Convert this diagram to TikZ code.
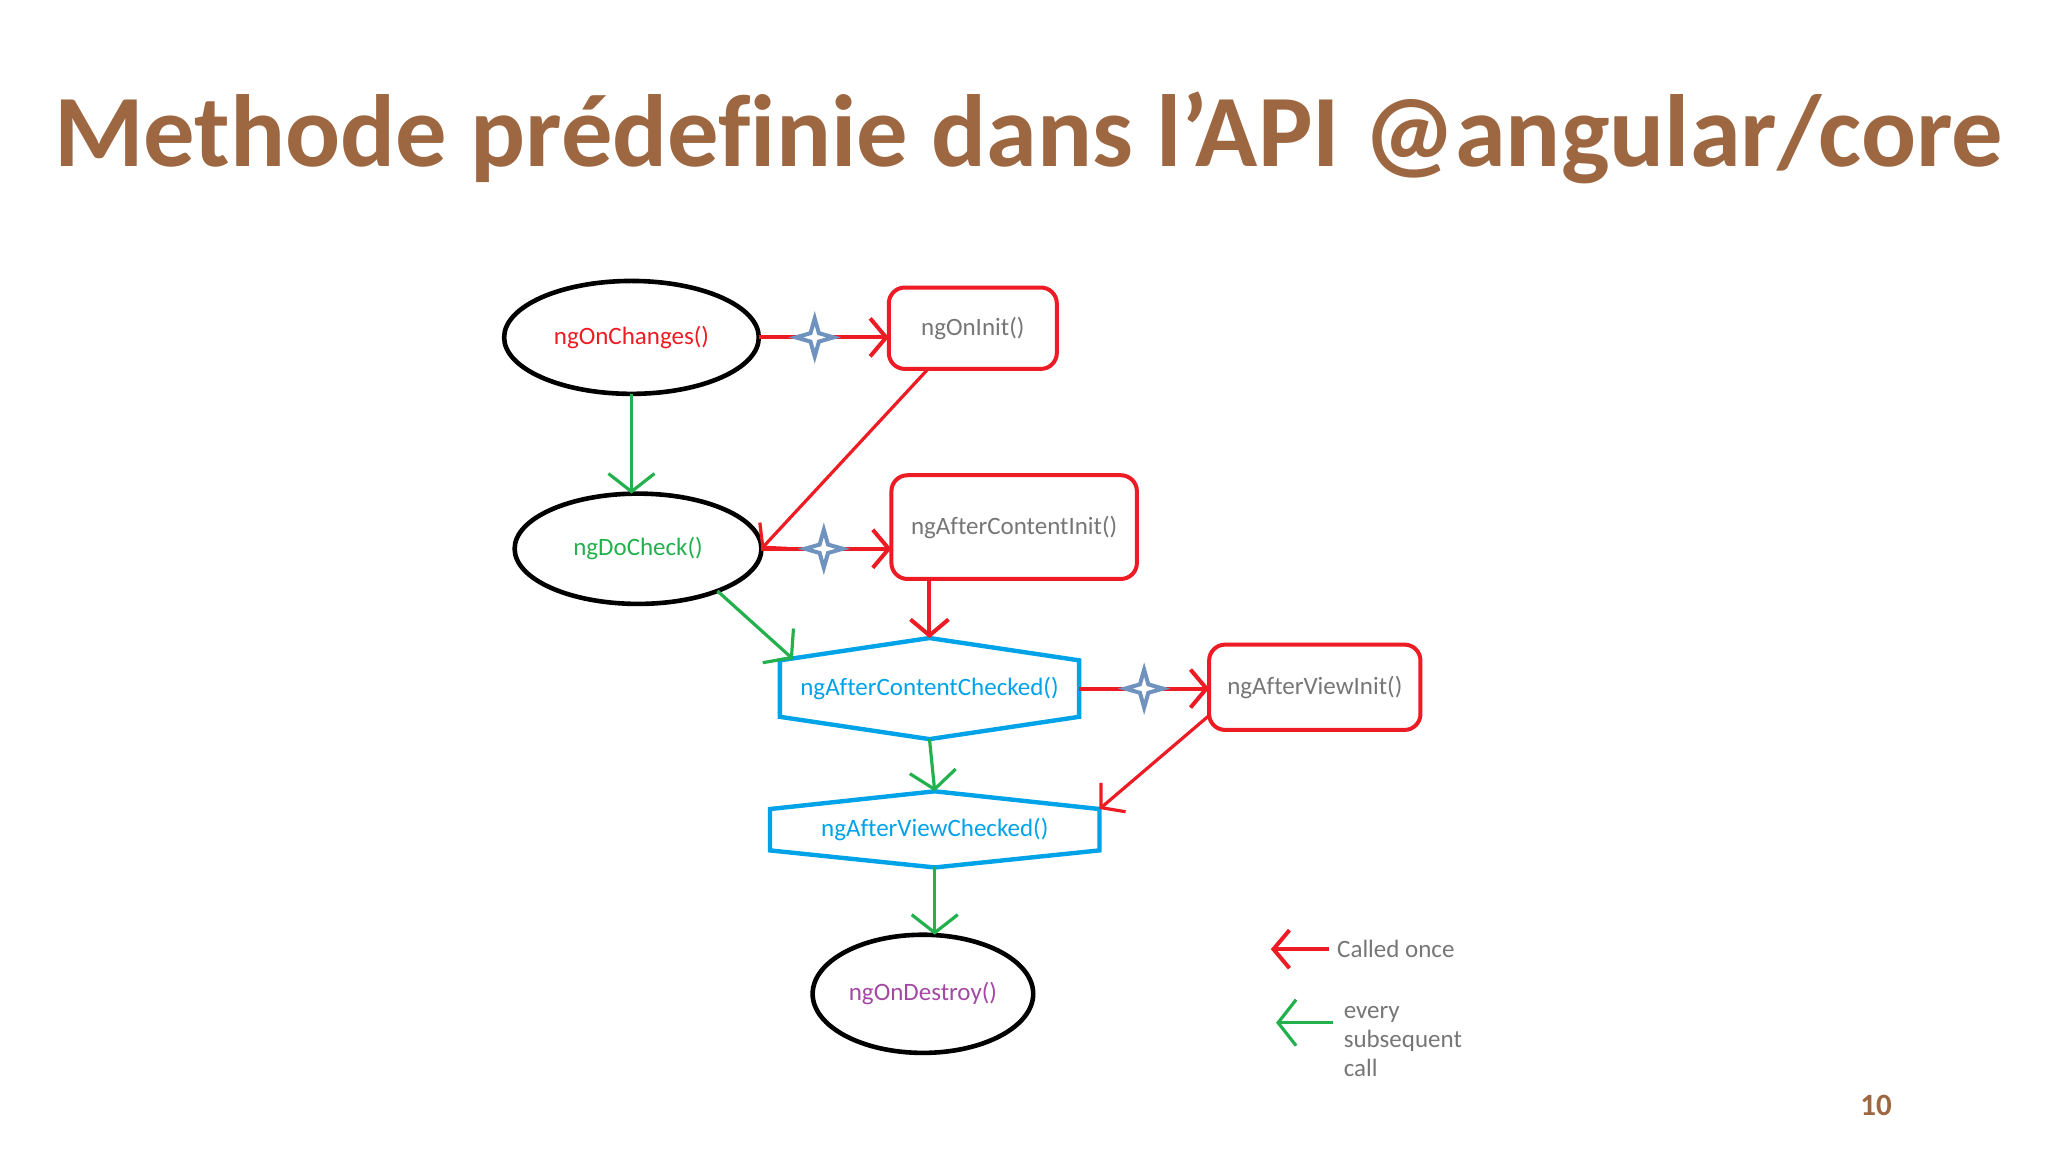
\documentclass[tikz,border=0pt]{standalone}
\usepackage{fontspec}
\setmainfont{Carlito}[Ligatures=CommonOff]
\usetikzlibrary{arrows.meta,shapes.geometric,calc}

\definecolor{paintred}{RGB}{237,28,36}
\definecolor{paintgreen}{RGB}{34,177,76}
\definecolor{paintblue}{RGB}{0,162,232}
\definecolor{paintslate}{RGB}{112,146,190}
\definecolor{paintpurple}{RGB}{163,73,164}
\definecolor{labelgray}{RGB}{118,118,118}
\definecolor{titlebrown}{RGB}{157,103,66}

\newcommand{\px}{0.6564pt}

\tikzset{every picture/.style={line width=0.75pt}}
\tikzset{
  labelfont/.style={font=\fontsize{12.5}{14.4}\selectfont},
  lifeoval/.style={ellipse, draw=black, line width=2.3pt, inner sep=0pt, outer sep=0pt, labelfont},
  oncebox/.style={rectangle, rounded corners=8pt, draw=paintred, line width=2pt, text=labelgray, inner sep=0pt, outer sep=0pt, labelfont},
  checklabel/.style={text=paintblue, inner sep=0pt, outer sep=0pt, labelfont},
  hexline/.style={draw=paintblue, line width=2.2pt, line join=miter},
  oncearrow/.style={draw=paintred, line width=2pt, -{Straight Barb[length=8pt,width=19pt]}},
  everyarrow/.style={draw=paintgreen, line width=1.6pt, -{Straight Barb[length=9pt,width=23pt]}},
  hookstar/.style={star, star points=4, star point ratio=3.2, minimum size=19pt, inner sep=0pt, draw=paintslate, fill=white, line width=2pt},
  legendtext/.style={text=labelgray, inner sep=0pt, align=left, labelfont}
}

\begin{document}
\begin{tikzpicture}[x=0.6564pt,y=0.6564pt,yscale=-1]
\useasboundingbox (0,0) rectangle (1560,877.5);

% Text Node
\node[font=\fontsize{51.3}{60}\bfseries\selectfont, text=titlebrown, anchor=base, inner sep=0pt] (title) at (783.5,127) {Methode prédefinie dans l’API @angular/core};

%Shape: Ellipse
\node[lifeoval, text=paintred, minimum width=194*\px, minimum height=86*\px] (chg) at (481,257) {ngOnChanges()};
%Shape: Ellipse
\node[lifeoval, text=paintgreen, minimum width=188*\px, minimum height=84*\px] (dc) at (486,418) {ngDoCheck()};
%Shape: Ellipse
\node[lifeoval, text=paintpurple, minimum width=168*\px, minimum height=90*\px] (des) at (703,757) {ngOnDestroy()};

%Shape: Rectangle
\node[oncebox, minimum width=128*\px, minimum height=62*\px] (init) at (741,250) {ngOnInit()};
%Shape: Rectangle
\node[oncebox, minimum width=187*\px, minimum height=79*\px] (aci) at (772.5,401.5) {ngAfterContentInit()};
%Shape: Rectangle
\node[oncebox, minimum width=161*\px, minimum height=65*\px] (avi) at (1001.5,523.5) {ngAfterViewInit()};

%Shape: Polygon
\node[checklabel, minimum width=228*\px, minimum height=43*\px] (acc) at (708,524.5) {ngAfterContentChecked()};
\coordinate (acctop) at ($(acc.north)+(0,-17)$);
\coordinate (accbot) at ($(acc.south)+(0,17)$);
\draw[hexline] (acc.north west) -- (acctop) -- (acc.north east) -- (acc.south east) -- (accbot) -- (acc.south west) -- cycle;
%Shape: Polygon
\node[checklabel, minimum width=251*\px, minimum height=31.5*\px] (avc) at (712,632) {ngAfterViewChecked()};
\coordinate (avctop) at ($(avc.north)+(0,-13.5)$);
\coordinate (avcbot) at ($(avc.south)+(0,13)$);
\draw[hexline] (avc.north west) -- (avctop) -- (avc.north east) -- (avc.south east) -- (avcbot) -- (avc.south west) -- cycle;

%Straight Lines
\draw[oncearrow] (chg.east) -- (chg.east -| init.west) node[hookstar, pos=0.43] (star1) {};
%Straight Lines
\draw[everyarrow] (chg.south) -- (chg.south |- dc.north);
%Straight Lines
\draw[oncearrow, line width=1.6pt] ($(init.south)+(-34,0)$) -- (dc.east);
%Straight Lines
\draw[oncearrow] (dc.east) -- (dc.east -| aci.west) node[hookstar, pos=0.48] (star2) {};
%Straight Lines
\draw[everyarrow] (dc.-28) -- ($(acc.north west)+(10,-1)$);
%Straight Lines
\draw[oncearrow] (aci.south -| acctop) -- (acctop);
%Straight Lines
\draw[oncearrow] (acc.east) -- (acc.east -| avi.west) node[hookstar, pos=0.5] (star3) {};
%Straight Lines
\draw[everyarrow] (accbot) -- (avctop);
%Straight Lines
\draw[oncearrow, line width=1.6pt] ($(avi.south west)+(0,-11)$) -- (avc.north east);
%Straight Lines
\draw[everyarrow] (avcbot) -- (avcbot |- des.north);

% Text Node
\node[legendtext, anchor=west] (once) at (1018,723) {Called once};
\coordinate (oncetip) at (968,723);
\draw[oncearrow] ($(once.west)+(-6,0)$) -- (oncetip);
% Text Node
\node[legendtext, anchor=north west] (every) at (1023,766) {every\\subsequent\\call};
\coordinate (everytail) at (1015,779);
\coordinate (everytip) at (972,779);
\draw[everyarrow] (everytail) -- (everytip);

% Text Node
\node[font=\fontsize{15.5}{18}\bfseries\selectfont, text=titlebrown, inner sep=0pt] (page) at (1429,842) {10};

\end{tikzpicture}
\end{document}
